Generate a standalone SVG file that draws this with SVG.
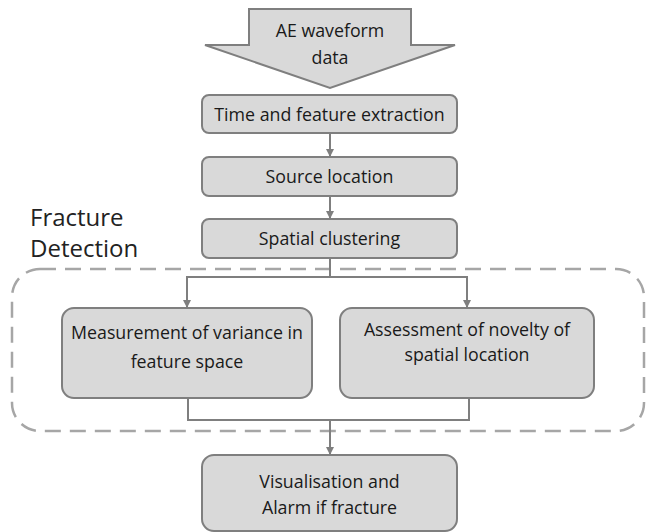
<svg xmlns="http://www.w3.org/2000/svg" width="648" height="532" viewBox="0 0 648 532">
  <defs>
    <marker id="ah" markerWidth="8" markerHeight="8" refX="7" refY="4" orient="auto" markerUnits="userSpaceOnUse">
      <path d="M0,0 L8,4 L0,8 Z" fill="#7f7f7f"/>
    </marker>
    <style>
      .box { fill: #d9d9d9; stroke: #7f7f7f; stroke-width: 2; }
      .lbl { font-family: "Open Sans", "Liberation Sans", sans-serif; font-size: 17.8px; fill: #1a1a1a; text-anchor: middle; }
      .wire { fill: none; stroke: #7f7f7f; stroke-width: 2; }
      .arr { fill: none; stroke: #7f7f7f; stroke-width: 2; marker-end: url(#ah); }
      .group { fill: none; stroke: #a6a6a6; stroke-width: 2.5; stroke-dasharray: 16 9; }
      .title { font-family: "Open Sans", "Liberation Sans", sans-serif; font-size: 24px; fill: #222; }
    </style>
  </defs>
  <rect width="648" height="532" fill="#ffffff"/>

  <!-- fracture detection region -->
  <g id="fracture-region">
    <rect class="group" x="12" y="269" width="632" height="162" rx="28" ry="28"/>
    <text class="title" x="30" y="226">Fracture</text>
    <text class="title" x="30" y="257">Detection</text>
  </g>

  <!-- connectors -->
  <g id="connectors">
    <line class="arr" x1="330" y1="134" x2="330" y2="156"/>
    <line class="arr" x1="330" y1="197" x2="330" y2="218"/>
    <polyline class="wire" points="330,259 330,277"/>
    <polyline class="arr" points="187,277 187,307"/>
    <line class="wire" x1="186" y1="277" x2="468" y2="277"/>
    <polyline class="arr" points="467,277 467,307"/>
    <polyline class="wire" points="188,399 188,420 469,420 469,399"/>
    <line class="arr" x1="330" y1="420" x2="330" y2="454"/>
  </g>

  <g id="input">
    <path class="box" d="M249,9 L411,9 L411,45 L455,45 L330,88 L205,45 L249,45 Z"/>
    <text class="lbl" x="330" y="37">AE waveform</text>
    <text class="lbl" x="330" y="64">data</text>
  </g>

  <g id="extraction">
    <rect class="box" x="202" y="95" width="255" height="38" rx="7"/>
    <text class="lbl" x="329.5" y="121">Time and feature extraction</text>
  </g>

  <g id="source-location">
    <rect class="box" x="202" y="157" width="255" height="39" rx="7"/>
    <text class="lbl" x="329.5" y="183">Source location</text>
  </g>

  <g id="spatial-clustering">
    <rect class="box" x="202" y="219" width="255" height="39" rx="7"/>
    <text class="lbl" x="329.5" y="245">Spatial clustering</text>
  </g>

  <g id="variance">
    <rect class="box" x="62" y="308" width="250" height="90" rx="12"/>
    <text class="lbl" x="187" y="339">Measurement of variance in</text>
    <text class="lbl" x="187" y="368">feature space</text>
  </g>

  <g id="novelty">
    <rect class="box" x="340" y="308" width="254" height="90" rx="12"/>
    <text class="lbl" x="467" y="336">Assessment of novelty of</text>
    <text class="lbl" x="467" y="361">spatial location</text>
  </g>

  <g id="alarm">
    <rect class="box" x="202" y="455" width="255" height="76" rx="12"/>
    <text class="lbl" x="329.5" y="488">Visualisation and</text>
    <text class="lbl" x="329.5" y="514">Alarm if fracture</text>
  </g>
</svg>
